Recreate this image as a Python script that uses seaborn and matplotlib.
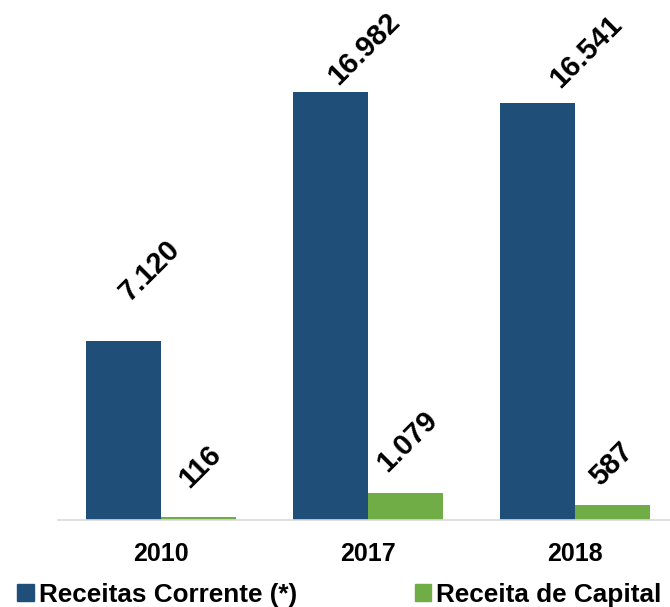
import pandas as pd
import matplotlib
matplotlib.use("Agg")
import matplotlib.pyplot as plt
import seaborn as sns

anos = ["2010", "2017", "2018"]
receitas_correntes = [7120, 16982, 16541]
receitas_capital = [116, 1079, 587]
series = ["Receitas Corrente (*)", "Receita de Capital"]
cores = ["#1F4E79", "#70AD47"]

# deslocamento (pontos) dos rótulos em relação ao topo de cada barra
offsets_corrente = [(19, 25), (24, 1), (35, 7)]
offsets_capital = [(1, 17), (1, 11), (-1, 10)]

df = pd.DataFrame({
    "ano": anos * 2,
    "valor": receitas_correntes + receitas_capital,
    "serie": [series[0]] * 3 + [series[1]] * 3,
})

sns.set_theme(style="white")
plt.rcParams["font.family"] = ["Liberation Sans", "DejaVu Sans"]
plt.rcParams["text.color"] = "black"

fig = plt.figure(figsize=(6.7, 6.07), dpi=100)
ax = fig.add_axes([57.5 / 670, 87 / 607, 621 / 670, 520 / 607])

sns.barplot(data=df, x="ano", y="valor", hue="serie", palette=cores,
            saturation=1, width=0.725, gap=0, linewidth=0, ax=ax, legend=False)

ax.set_xlim(-0.5, 2.5)
ax.set_ylim(0, 20632)
ax.set_xlabel("")
ax.set_ylabel("")
ax.set_yticks([])
for s in ["top", "right", "left"]:
    ax.spines[s].set_visible(False)
ax.spines["bottom"].set_color("#D9D9D9")
ax.spines["bottom"].set_linewidth(1.2)
ax.tick_params(axis="x", length=0, pad=16)
for lbl in ax.get_xticklabels():
    lbl.set_fontsize(18)
    lbl.set_fontweight("bold")
    lbl.set_color("black")

for cont, offs in zip(ax.containers, [offsets_corrente, offsets_capital]):
    for bar, (dx, dy) in zip(cont, offs):
        v = int(round(bar.get_height()))
        txt = f"{v:,}".replace(",", ".")
        ax.annotate(txt, (bar.get_x() + bar.get_width() / 2, bar.get_height()),
                    xytext=(dx, dy), textcoords="offset points",
                    ha="center", va="bottom", rotation=45,
                    fontsize=21, fontweight="bold", color="black",
                    annotation_clip=False)

handles = [plt.Rectangle((0, 0), 1, 1, color=c) for c in cores]
fig.legend(handles, series, loc="center left", bbox_to_anchor=(17 / 670, 12 / 607),
           ncol=2, frameon=False, borderpad=0, borderaxespad=0,
           handlelength=0.64, handleheight=0.64, handletextpad=0.2,
           columnspacing=4.5, labelcolor="black",
           prop={"size": 18.8, "weight": "bold"})

fig.savefig("out.png", dpi=100)
